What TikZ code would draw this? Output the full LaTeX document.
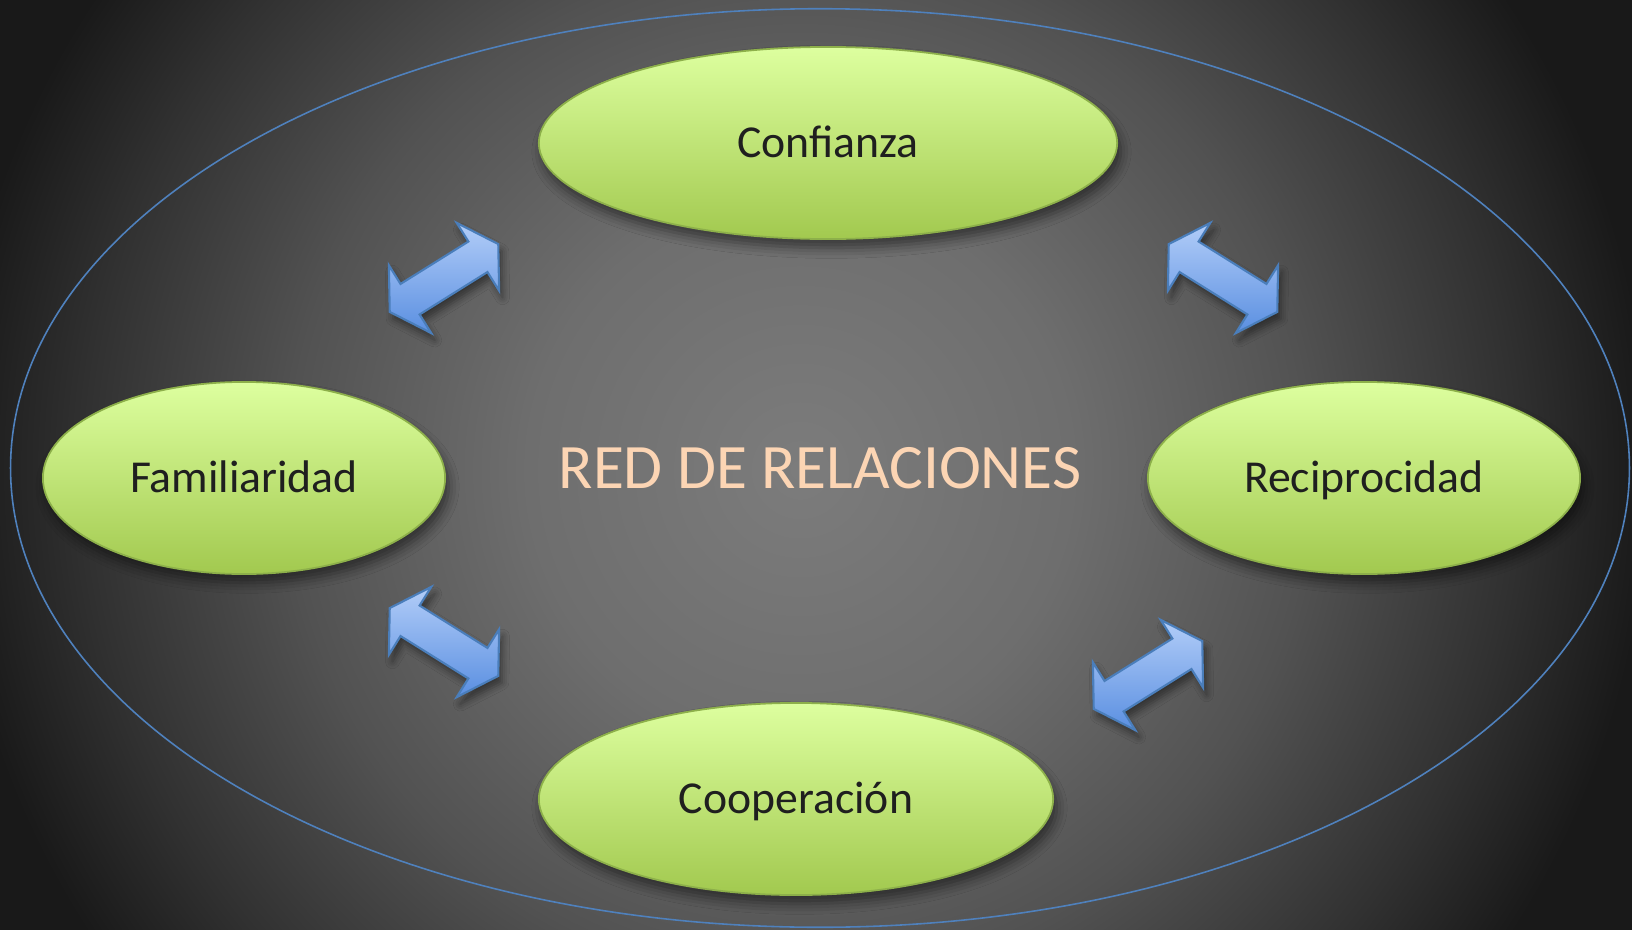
\documentclass[tikz,border=0pt]{standalone}
\usepackage{fontspec}
\setmainfont{Carlito}
\usetikzlibrary{shapes.geometric,shadows.blur}
\definecolor{bgA}{HTML}{7C7C7C}
\definecolor{bgB}{HTML}{6E6E6E}
\definecolor{bgC}{HTML}{525252}
\definecolor{bgD}{HTML}{313131}
\definecolor{bgE}{HTML}{191919}
\definecolor{gtop}{HTML}{DDFF9F}
\definecolor{gbot}{HTML}{A2C94F}
\definecolor{bubbleline}{HTML}{8DB04A}
\definecolor{outline}{HTML}{4F81BD}
\definecolor{peach}{HTML}{FCD5B4}
\definecolor{atop}{HTML}{B2CDF8}
\definecolor{abot}{HTML}{5A8FE1}
\definecolor{aline}{HTML}{4A7EBB}
\pgfdeclareradialshading{bgshade}{\pgfpoint{0bp}{0bp}}{color(0bp)=(bgA); color(8bp)=(bgB); color(15bp)=(bgC); color(21bp)=(bgD); color(25bp)=(bgE); color(50bp)=(bgE)}
\tikzset{
  bubble/.style={ellipse, draw=bubbleline, line width=0.5pt, top color=gtop, bottom color=gbot,
    text=black!88, font=\fontsize{13}{15}\selectfont, text height=8.4pt, text depth=0pt, inner sep=0pt,
    blur shadow={shadow xshift=1pt, shadow yshift=-2.5pt, shadow blur radius=3pt, shadow opacity=50}},
  arrowshape/.style={top color=atop, bottom color=abot, draw=aline, line width=0.6pt, line join=miter,
    blur shadow={shadow xshift=1pt, shadow yshift=-2pt, shadow blur radius=2pt, shadow opacity=45}},
  dblarrow/.pic={
    \path[arrowshape] (-64,0) -- (-40,40) -- (-40,18) -- (40,18) -- (40,40) -- (64,0)
      -- (40,-40) -- (40,-18) -- (-40,-18) -- (-40,-40) -- cycle;
  }
}
\begin{document}
\begin{tikzpicture}[x=0.01cm, y=0.01cm]
\useasboundingbox (0,0) rectangle (1632,929);
\begin{scope}
  \clip (0,0) rectangle (1632,929);
  \shade[shading=bgshade] (-50,-391) rectangle (1650,1309);
\end{scope}
% outer ellipse with title
\node[ellipse, draw=outline, line width=0.45pt, minimum width=16.18cm, minimum height=9.18cm,
  inner sep=0pt, text=peach, font=\fontsize{18}{22}\selectfont, text height=11.6pt, text depth=0pt]
  (red) at (820,461) {RED DE RELACIONES};
% bubbles
\node[bubble, minimum width=5.78cm, minimum height=1.92cm] (conf) at (828,786) {Confianza};
\node[bubble, minimum width=4.02cm, minimum height=1.92cm] (fam) at (244,451) {Familiaridad};
\node[bubble, minimum width=4.32cm, minimum height=1.92cm] (rec) at (1364,451) {Reciprocidad};
\node[bubble, minimum width=5.14cm, minimum height=1.92cm] (coop) at (796,130) {Cooperación};
% double arrows
\pic[rotate=32] (a1) at (444,651) {dblarrow};
\pic[rotate=-32] (a2) at (1223,651) {dblarrow};
\pic[rotate=-32] (a3) at (444,287) {dblarrow};
\pic[rotate=32] (a4) at (1148,254) {dblarrow};
\end{tikzpicture}
\end{document}
